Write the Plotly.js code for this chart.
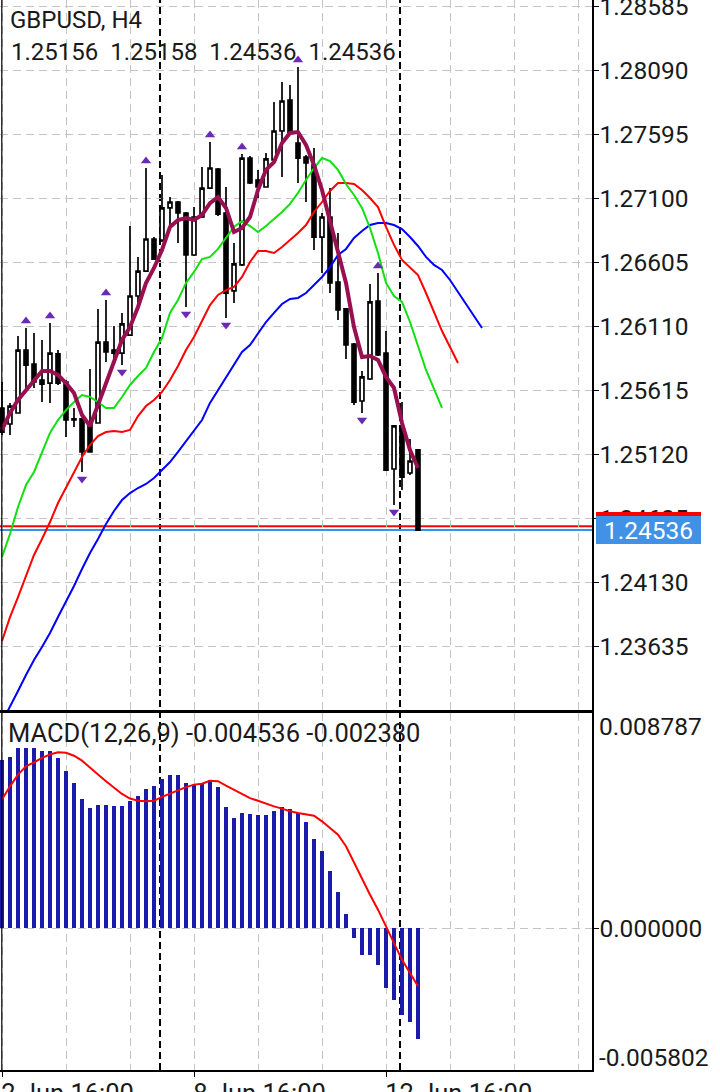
<!DOCTYPE html>
<html><head><meta charset="utf-8">
<script src="https://cdn.plot.ly/plotly-3.0.1.min.js"></script>
<style>html,body{margin:0;padding:0;background:#fff}#chart{width:720px;height:1092px}</style>
</head><body><div id="chart"></div>
<script>
const symbolTitle = 'GBPUSD, H4';
const timeLabels = ['2 Jun 16:00', '8 Jun 16:00', '12 Jun 16:00'];
const timeLabelBars = [0, 24, 48];
const weekStartBars = [20, 50];

const opens = [1.25480,1.25356,1.25441,1.25928,1.25820,1.25696,1.25673,1.25898,1.25681,1.25395,1.25395,1.25348,1.25364,1.25990,1.25928,1.25905,1.26044,1.26346,1.26539,1.26787,1.26779,1.27027,1.27073,1.26988,1.26663,1.26957,1.27181,1.27328,1.26988,1.26385,1.26586,1.27413,1.27243,1.27189,1.27398,1.27622,1.27862,1.27529,1.27421,1.27359,1.26802,1.26957,1.26454,1.26246,1.25975,1.25534,1.25704,1.26307,1.25905,1.25008,1.25310,1.24977,1.25156];
const highs = [1.25681,1.25519,1.26037,1.26099,1.26060,1.26006,1.26137,1.25928,1.25696,1.25480,1.25403,1.25782,1.26246,1.26315,1.26114,1.26215,1.26887,1.26648,1.27336,1.26802,1.27282,1.27112,1.27081,1.26996,1.27034,1.27344,1.27537,1.27336,1.27189,1.26756,1.27444,1.27429,1.27321,1.27452,1.27846,1.28001,1.27978,1.28117,1.27437,1.27491,1.26988,1.27181,1.26833,1.26253,1.25983,1.25766,1.26439,1.26524,1.26075,1.25348,1.25526,1.25240,1.25158];
const lows = [1.25271,1.25271,1.25436,1.25635,1.25635,1.25526,1.25519,1.25658,1.25256,1.25333,1.24985,1.25136,1.25360,1.25836,1.25851,1.25812,1.26037,1.26261,1.26535,1.26625,1.26764,1.26880,1.26756,1.26261,1.26655,1.26949,1.27174,1.26965,1.26176,1.26292,1.26578,1.27212,1.27104,1.27185,1.27394,1.27266,1.27607,1.27220,1.27073,1.26702,1.26524,1.26369,1.26160,1.25859,1.25503,1.25441,1.25696,1.25882,1.24993,1.24730,1.24846,1.24962,1.24536];
const closes = [1.25294,1.25495,1.25928,1.25812,1.25681,1.25665,1.25905,1.25673,1.25387,1.25387,1.25140,1.25140,1.25990,1.25913,1.25905,1.26130,1.26346,1.26539,1.26787,1.26632,1.27027,1.27073,1.26988,1.26663,1.26957,1.27181,1.27336,1.26980,1.26369,1.26594,1.27413,1.27220,1.27189,1.27406,1.27622,1.27854,1.27614,1.27413,1.27375,1.26802,1.26957,1.26447,1.26238,1.25967,1.25526,1.25720,1.26300,1.25890,1.25000,1.25341,1.24946,1.25070,1.24536];

// moving average (thick purple)
const maLine = [1.25310,1.25441,1.25542,1.25619,1.25696,1.25766,1.25766,1.25735,1.25673,1.25596,1.25426,1.25341,1.25503,1.25673,1.25828,1.26006,1.26106,1.26261,1.26447,1.26563,1.26702,1.26880,1.26934,1.26949,1.26934,1.26973,1.27065,1.27112,1.27027,1.26841,1.26872,1.26957,1.27166,1.27321,1.27382,1.27529,1.27607,1.27614,1.27514,1.27359,1.27166,1.26934,1.26702,1.26447,1.26106,1.25874,1.25882,1.25851,1.25720,1.25635,1.25364,1.25155,1.25016];
// Alligator lines, as drawn (already shifted forward)
const lipsLine = [1.24328,1.24505,1.24714,1.24884,1.24985,1.25140,1.25287,1.25387,1.25464,1.25526,1.25580,1.25565,1.25526,1.25480,1.25480,1.25565,1.25658,1.25727,1.25789,1.25913,1.26021,1.26215,1.26315,1.26447,1.26532,1.26632,1.26648,1.26710,1.26795,1.26880,1.26926,1.26887,1.26841,1.26887,1.26942,1.26996,1.27058,1.27143,1.27243,1.27336,1.27413,1.27390,1.27321,1.27212,1.27127,1.27027,1.26872,1.26679,1.26447,1.26346,1.26300,1.26145,1.25959,1.25774,1.25627,1.25480];
const teethLine = [1.23678,1.23863,1.24018,1.24188,1.24343,1.24467,1.24598,1.24745,1.24861,1.24985,1.25101,1.25194,1.25263,1.25294,1.25302,1.25294,1.25310,1.25418,1.25495,1.25542,1.25604,1.25696,1.25805,1.25928,1.26029,1.26153,1.26276,1.26354,1.26392,1.26416,1.26493,1.26609,1.26694,1.26694,1.26679,1.26725,1.26779,1.26833,1.26895,1.26996,1.27073,1.27158,1.27220,1.27220,1.27212,1.27166,1.27104,1.27034,1.26880,1.26741,1.26625,1.26563,1.26508,1.26369,1.26222,1.26075,1.25952,1.25828];
const jawLine = [1.23051,1.23167,1.23291,1.23415,1.23531,1.23631,1.23740,1.23863,1.23979,1.24103,1.24235,1.24358,1.24467,1.24583,1.24683,1.24768,1.24822,1.24861,1.24892,1.24938,1.25000,1.25062,1.25140,1.25225,1.25310,1.25387,1.25519,1.25619,1.25720,1.25820,1.25913,1.25967,1.26052,1.26145,1.26215,1.26284,1.26323,1.26331,1.26369,1.26431,1.26493,1.26570,1.26663,1.26710,1.26795,1.26849,1.26895,1.26911,1.26911,1.26895,1.26864,1.26802,1.26733,1.26648,1.26586,1.26547,1.26470,1.26377,1.26284,1.26199,1.26099];

const fractalUpBars = [3, 6, 13, 18, 26, 30, 37, 47];
const fractalDownBars = [10, 15, 23, 28, 45, 49];

const macdMain = [0.00688,0.00699,0.00736,0.00736,0.00736,0.00725,0.00725,0.00695,0.00643,0.00594,0.00529,0.00492,0.00504,0.00504,0.00497,0.00500,0.00518,0.00541,0.00568,0.00579,0.00609,0.00625,0.00625,0.00594,0.00585,0.00590,0.00603,0.00576,0.00496,0.00448,0.00469,0.00467,0.00460,0.00463,0.00477,0.00495,0.00487,0.00470,0.00435,0.00364,0.00316,0.00234,0.00148,0.00058,-0.00042,-0.00112,-0.00112,-0.00153,-0.00247,-0.00296,-0.00356,-0.00386,-0.004536];
const macdSignal = [0.00525,0.00579,0.00627,0.00661,0.00677,0.00695,0.00709,0.00718,0.00716,0.00704,0.00684,0.00654,0.00627,0.00600,0.00572,0.00548,0.00529,0.00520,0.00518,0.00520,0.00536,0.00549,0.00565,0.00576,0.00586,0.00590,0.00602,0.00600,0.00582,0.00565,0.00548,0.00531,0.00520,0.00508,0.00497,0.00488,0.00477,0.00470,0.00466,0.00459,0.00436,0.00409,0.00381,0.00334,0.00266,0.00197,0.00136,0.00075,0.00007,-0.00061,-0.00130,-0.00184,-0.00238];

const priceTicks = [1.28585,1.28090,1.27595,1.27100,1.26605,1.26110,1.25615,1.25120,1.24625,1.24130,1.23635];
const priceTickLabels = ['1.28585','1.28090','1.27595','1.27100','1.26605','1.26110','1.25615','1.25120','1.24625','1.24130','1.23635'];
const priceRange = [1.231442, 1.286353];
const macdRange = [-0.005802, 0.008787];
const macdTickVals = [0];
const macdTickLabels = ['0.000000'];
const macdTopLabel = '0.008787';
const macdBottomLabel = '-0.005802';
const askPrice = 1.24566;

// ---- derived ----
const idx = a => a.map((_, i) => i);
const last = closes.length - 1;
const bidPrice = closes[last];
const PLOT_W = 592, PLOT_H = 1070, MAIN_H = 710;
const pricePerPx = (priceRange[1] - priceRange[0]) / MAIN_H;
const fractalGap = 7 * pricePerPx;
const FONT = 'Roboto, sans-serif';
const TXT = '#1a1a1a';
const GRID = '#c4c4c4';
const GRIDDASH = '8px,5px';

const traces = [
  {type: 'candlestick', x: idx(opens), open: opens, high: highs, low: lows, close: closes,
   xaxis: 'x', yaxis: 'y', whiskerwidth: 0, hoverinfo: 'skip',
   increasing: {line: {color: '#000', width: 1.7}, fillcolor: '#ffffff'},
   decreasing: {line: {color: '#000', width: 1.7}, fillcolor: '#000000'}},
  {type: 'scatter', mode: 'lines', x: idx(jawLine), y: jawLine, line: {color: '#0000ff', width: 2}, hoverinfo: 'skip'},
  {type: 'scatter', mode: 'lines', x: idx(teethLine), y: teethLine, line: {color: '#ff0000', width: 2}, hoverinfo: 'skip'},
  {type: 'scatter', mode: 'lines', x: idx(lipsLine), y: lipsLine, line: {color: '#10e010', width: 2}, hoverinfo: 'skip'},
  {type: 'scatter', mode: 'lines', x: idx(maLine), y: maLine, line: {color: '#98104f', width: 4}, hoverinfo: 'skip'},
  {type: 'scatter', mode: 'markers', x: fractalUpBars, y: fractalUpBars.map(i => highs[i] + fractalGap),
   marker: {symbol: 'triangle-up', size: 9, color: '#6a2bb3'}, hoverinfo: 'skip'},
  {type: 'scatter', mode: 'markers', x: fractalDownBars, y: fractalDownBars.map(i => lows[i] - fractalGap),
   marker: {symbol: 'triangle-down', size: 9, color: '#6a2bb3'}, hoverinfo: 'skip'},
  {type: 'bar', x: idx(macdMain), y: macdMain, xaxis: 'x2', yaxis: 'y2', width: 0.5,
   marker: {color: '#1b1ba8', line: {width: 0}}, hoverinfo: 'skip'},
  {type: 'scatter', mode: 'lines', x: idx(macdSignal), y: macdSignal, xaxis: 'x2', yaxis: 'y2',
   line: {color: '#ff0000', width: 2}, hoverinfo: 'skip'}
];

const xRange = [-0.25, PLOT_W / 8 - 0.25];
const gridMinor = {dtick: 8, tick0: 0, showgrid: true, gridcolor: GRID, griddash: GRIDDASH, gridwidth: 1, ticks: ''};

const shapes = [];
weekStartBars.forEach(b => shapes.push({type: 'line', xref: 'x', yref: 'paper', x0: b - 0.25, x1: b - 0.25, y0: 0, y1: 1,
  line: {color: '#000', width: 2, dash: '7px,4px'}, layer: 'below'}));
shapes.push({type: 'line', xref: 'paper', yref: 'y', x0: 0, x1: 1, y0: askPrice, y1: askPrice, line: {color: '#ff0000', width: 2}, layer: 'below'});
shapes.push({type: 'line', xref: 'paper', yref: 'y', x0: 0, x1: 1, y0: bidPrice, y1: bidPrice, line: {color: '#3f90e8', width: 2}, layer: 'below'});
shapes.push({type: 'line', xref: 'paper', yref: 'paper', x0: 1.8 / PLOT_W, x1: 1.8 / PLOT_W, y0: 0, y1: 1, line: {color: '#000', width: 1.2}});

const annotations = [
  {xref: 'paper', yref: 'paper', x: 9 / PLOT_W, y: 1 - 52 / PLOT_H, xanchor: 'left', yanchor: 'middle', showarrow: false,
   text: [opens[last], highs[last], lows[last], closes[last]].map(v => v.toFixed(5)).join('\u00a0\u00a0'),
   font: {family: FONT, size: 24, color: TXT}},
  {xref: 'paper', yref: 'paper', x: 6 / PLOT_W, y: 1 - 733 / PLOT_H, xanchor: 'left', yanchor: 'middle', showarrow: false,
   text: 'MACD(12,26,9) ' + macdMain[last].toFixed(6) + ' ' + macdSignal[last].toFixed(6),
   font: {family: FONT, size: 25.5, color: TXT}},
  {xref: 'paper', yref: 'paper', x: 597 / PLOT_W, y: 1 - 726.5 / PLOT_H, xanchor: 'left', yanchor: 'middle', showarrow: false,
   text: macdTopLabel, font: {family: FONT, size: 24.5, color: TXT}},
  {xref: 'paper', yref: 'paper', x: 597 / PLOT_W, y: 1 - 1057 / PLOT_H, xanchor: 'left', yanchor: 'middle', showarrow: false,
   text: macdBottomLabel, font: {family: FONT, size: 24.5, color: TXT}},
  {xref: 'paper', yref: 'y', x: 596 / PLOT_W, y: askPrice, xanchor: 'left', yanchor: 'middle', showarrow: false,
   text: '\u00a0', bgcolor: '#ff0000', width: 105, height: 28, borderpad: 0, borderwidth: 0,
   font: {family: FONT, size: 24, color: '#ffffff'}},
  {xref: 'paper', yref: 'y', x: 596 / PLOT_W, y: bidPrice, xanchor: 'left', yanchor: 'middle', showarrow: false,
   text: bidPrice.toFixed(5), bgcolor: '#4191e6', width: 105, height: 28, borderpad: 0, borderwidth: 0,
   font: {family: FONT, size: 24.5, color: '#ffffff'}}
];

const layout = {
  width: 720, height: 1092,
  margin: {l: 0, r: 720 - PLOT_W, t: 0, b: 1092 - PLOT_H, pad: 0},
  paper_bgcolor: '#ffffff', plot_bgcolor: '#ffffff',
  showlegend: false,
  font: {family: FONT, size: 24, color: TXT},
  title: {text: symbolTitle, xref: 'container', yref: 'container', x: 10 / 720, xanchor: 'left',
          y: 1 - 20 / 1092, yanchor: 'middle', font: {family: FONT, size: 24, color: TXT}},
  xaxis: {domain: [0, 1], anchor: 'y', range: xRange, type: 'linear', fixedrange: true,
          tickvals: timeLabelBars, showticklabels: false, ticks: '',
          showgrid: true, gridcolor: GRID, griddash: GRIDDASH, gridwidth: 1, minor: gridMinor,
          zeroline: false, showline: true, linecolor: '#000', linewidth: 1.5,
          rangeslider: {visible: false}},
  yaxis: {domain: [1 - MAIN_H / PLOT_H, 1], anchor: 'x', side: 'right', range: priceRange, fixedrange: true,
          tickvals: priceTicks, ticktext: priceTickLabels, ticks: 'outside', ticklen: 5, tickcolor: '#000', tickwidth: 1,
          ticklabeloverflow: 'allow', ticklabelstandoff: -4,
          showgrid: true, gridcolor: GRID, griddash: GRIDDASH, gridwidth: 1, zeroline: false,
          showline: true, linecolor: '#000', linewidth: 1.5, tickfont: {family: FONT, size: 24.5, color: TXT}},
  xaxis2: {domain: [0, 1], anchor: 'y2', range: xRange, type: 'linear', fixedrange: true,
           tickvals: timeLabelBars, ticktext: timeLabels, ticklabelposition: 'outside right',
           ticklabeloverflow: 'allow', ticklabelshift: -2,
           ticks: 'outside', ticklen: 5, tickcolor: '#000',
           showgrid: true, gridcolor: GRID, griddash: GRIDDASH, gridwidth: 1, minor: gridMinor,
           zeroline: false, showline: true, mirror: true, linecolor: '#000', linewidth: 1.5,
           tickfont: {family: FONT, size: 25.5, color: TXT}},
  yaxis2: {domain: [0, (PLOT_H - 713) / PLOT_H], anchor: 'x2', side: 'right', range: macdRange, fixedrange: true,
           tickvals: macdTickVals, ticktext: macdTickLabels, ticks: 'outside', ticklen: 5, tickcolor: '#000',
           ticklabelstandoff: -4,
           showgrid: true, gridcolor: GRID, griddash: GRIDDASH, gridwidth: 1, zeroline: false,
           showline: true, linecolor: '#000', linewidth: 1.5, tickfont: {family: FONT, size: 24.5, color: TXT}},
  bargap: 0,
  shapes: shapes,
  annotations: annotations
};

Plotly.newPlot('chart', traces, layout, {staticPlot: true, displayModeBar: false});
</script>
</body></html>
